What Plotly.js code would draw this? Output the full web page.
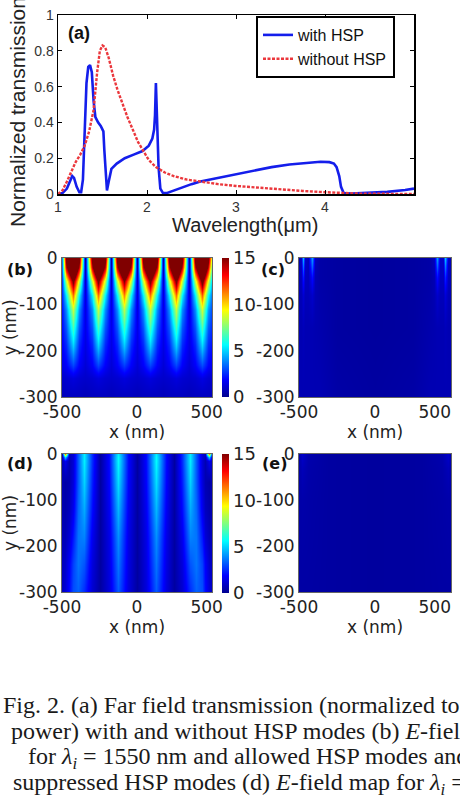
<!DOCTYPE html>
<html>
<head>
<meta charset="utf-8">
<script src="https://cdn.plot.ly/plotly-3.0.1.min.js"></script>
<style>
  html, body { margin: 0; padding: 0; background: #fff; overflow: hidden; }
  #fig { width: 460px; height: 799px; }
</style>
</head>
<body>
<div id="fig"></div>
<script>
// ---- (a) far-field transmission spectra ----
const lamWith = [1.00,1.05,1.10,1.14,1.16,1.18,1.21,1.24,1.26,1.28,1.30,1.32,1.34,1.36,1.38,1.40,1.42,1.45,1.48,1.51,1.52,1.54,1.55,1.57,1.60,1.66,1.75,1.85,1.95,2.02,2.06,2.08,2.09,2.10,2.11,2.13,2.15,2.18,2.22,2.30,2.40,2.50,2.60,2.80,3.00,3.20,3.40,3.60,3.80,3.95,4.05,4.10,4.13,4.16,4.18,4.21,4.30,4.50,4.70,4.90,5.00];
const tWith   = [0.000,0.005,0.03,0.08,0.10,0.09,0.04,0.01,0.01,0.08,0.40,0.62,0.71,0.72,0.68,0.52,0.43,0.40,0.38,0.35,0.25,0.05,0.02,0.07,0.14,0.17,0.20,0.22,0.24,0.27,0.31,0.36,0.44,0.62,0.45,0.15,0.03,0.005,0.005,0.02,0.04,0.055,0.07,0.09,0.11,0.13,0.15,0.165,0.175,0.18,0.178,0.17,0.15,0.10,0.04,0.005,0.003,0.006,0.012,0.022,0.03];

const lamWithout = [1.00,1.05,1.10,1.15,1.20,1.25,1.30,1.35,1.40,1.44,1.47,1.50,1.53,1.57,1.62,1.67,1.72,1.78,1.84,1.90,1.96,2.02,2.10,2.20,2.30,2.45,2.60,2.80,3.00,3.25,3.50,3.75,4.00,4.20,4.40,5.00];
const tWithout   = [0.00,0.02,0.07,0.13,0.18,0.22,0.27,0.35,0.47,0.68,0.80,0.83,0.82,0.76,0.66,0.58,0.51,0.43,0.36,0.29,0.24,0.19,0.15,0.12,0.10,0.08,0.07,0.055,0.045,0.035,0.025,0.017,0.01,0.005,0.002,0.000];

const seriesNames = ['with HSP', 'without HSP'];

// ---- (b) |E| map, 1550 nm, HSP modes allowed (rows from y=-300 up to y=0) ----
const bX = [-500,-475,-430,-385,-344,-303,-258,-213,-172,-131,-86,-41,0,41,86,131,172,213,258,303,344,385,430,475,500];
const bY = [-300,-260,-230,-190,-150,-110,-80,-50,-20,0];
const bZ = [
  [0.7,0.8,0.8,0.8,0.7,0.8,0.8,0.8,0.7,0.8,0.8,0.8,0.7,0.8,0.8,0.8,0.7,0.8,0.8,0.8,0.7,0.8,0.8,0.8,0.7],
  [1.0,1.1,1.3,1.1,1.0,1.1,1.3,1.1,1.0,1.1,1.3,1.1,1.0,1.1,1.3,1.1,1.0,1.1,1.3,1.1,1.0,1.1,1.4,1.1,1.0],
  [1.5,1.8,2.9,1.8,1.2,1.8,2.9,1.8,1.2,1.8,2.8,1.8,1.2,1.8,2.9,1.8,1.2,1.8,2.9,1.8,1.2,1.8,3.0,1.9,1.6],
  [1.8,2.4,4.9,2.4,1.4,2.4,4.9,2.4,1.4,2.4,4.8,2.4,1.4,2.4,4.9,2.4,1.4,2.4,4.9,2.4,1.4,2.4,5.0,2.5,2.0],
  [2.0,3.1,6.6,3.1,1.5,3.1,6.6,3.1,1.5,3.1,6.5,3.1,1.5,3.1,6.6,3.1,1.5,3.1,6.6,3.1,1.5,3.1,6.7,3.2,2.4],
  [2.2,4.0,8.6,4.0,1.4,4.0,8.6,4.0,1.4,4.0,8.4,4.0,1.4,4.0,8.6,4.0,1.4,4.0,8.6,4.0,1.4,4.0,8.8,4.2,2.8],
  [2.5,5.5,11.5,5.5,1.3,5.5,11.5,5.5,1.3,5.5,11.2,5.5,1.3,5.5,11.5,5.5,1.3,5.5,11.5,5.5,1.3,5.5,11.8,5.8,3.4],
  [2.8,8.5,15.5,8.5,1.0,8.5,15.5,8.5,1.0,8.5,15,8.5,1.0,8.5,15.5,8.5,1.0,8.5,15.5,8.5,1.0,8.5,16,9,4.5],
  [3.6,14,22,14,0.6,14,22,14,0.6,14,22,14,0.6,14,22,14,0.6,14,22,14,0.6,14,22,14,6.5],
  [4.0,16,25,16,0.3,16,25,16,0.3,16,25,16,0.3,16,25,16,0.3,16,25,16,0.3,16,25,16,8.0]
];

// ---- (c) |E| map, 1550 nm, HSP modes suppressed ----
const cX = [-500,-487,-474,-462,-444,-414,-396,-360,-250,0,250,360,390,408,428,445,461,478,500];
const cY = [-300,-150,-80,-40,-15,0];
const cZ = [
  [0.6,0.6,0.6,0.6,0.6,0.6,0.6,0.6,0.4,0.3,0.4,0.6,0.6,0.6,0.6,0.6,0.6,0.6,0.6],
  [0.6,0.6,0.7,0.6,0.6,0.6,0.55,0.5,0.3,0.25,0.3,0.5,0.55,0.6,0.6,0.6,0.7,0.6,0.6],
  [0.6,0.7,1.1,0.7,0.7,1.0,0.6,0.45,0.3,0.25,0.3,0.45,0.6,1.0,0.7,0.7,1.2,0.7,0.6],
  [0.6,0.8,2.2,0.8,0.7,2.0,0.6,0.4,0.3,0.25,0.3,0.4,0.6,2.0,0.8,0.8,2.4,0.8,0.6],
  [0.6,0.9,3.6,0.9,0.7,3.4,0.7,0.4,0.3,0.25,0.3,0.4,0.7,3.4,0.9,0.9,3.8,0.9,0.6],
  [0.6,1.0,4.6,1.0,0.7,4.2,0.8,0.4,0.3,0.25,0.3,0.4,0.8,4.2,1.0,1.0,4.8,1.0,0.6]
];

// ---- (d) |E| map, 2000 nm, HSP modes allowed ----
const dX = [-500,-482,-455,-430,-395,-353,-300,-247,-190,-125,-60,0,60,125,190,247,300,353,395,430,455,482,500];
const dY = [-300,-240,-180,-120,-60,-15,-6,0];
const dZ = [
  [0.8,1.2,2.0,3.0,3.3,2.5,1.1,0.3,1.3,3.2,1.3,0.3,1.3,3.2,1.3,0.3,1.1,2.5,3.3,3.0,2.0,1.2,0.8],
  [0.8,1.0,1.8,2.8,3.6,3.1,1.3,0.3,1.4,3.6,1.4,0.3,1.4,3.6,1.4,0.3,1.3,3.1,3.6,2.8,1.8,1.0,0.8],
  [0.7,0.7,1.2,2.2,3.6,3.8,1.6,0.3,1.5,4.0,1.5,0.3,1.5,4.0,1.5,0.3,1.6,3.8,3.6,2.2,1.2,0.7,0.7],
  [0.6,0.5,0.8,1.6,3.4,4.4,2.0,0.3,1.7,4.6,1.7,0.3,1.7,4.6,1.7,0.3,2.0,4.4,3.4,1.6,0.8,0.5,0.6],
  [0.6,0.4,0.6,1.3,3.2,5.0,2.3,0.3,1.9,5.2,1.9,0.3,1.9,5.2,1.9,0.3,2.3,5.0,3.2,1.3,0.6,0.4,0.6],
  [0.7,1.6,0.6,1.2,3.2,5.4,2.5,0.3,2.0,5.6,2.0,0.3,2.0,5.6,2.0,0.3,2.5,5.4,3.2,1.2,0.6,1.6,0.7],
  [0.8,5.0,0.7,1.2,3.2,5.4,2.5,0.3,2.0,5.6,2.0,0.3,2.0,5.6,2.0,0.3,2.5,5.4,3.2,1.2,0.7,5.0,0.8],
  [0.9,11.0,0.8,1.2,3.2,5.4,2.5,0.3,2.0,5.4,2.0,0.3,2.0,5.4,2.0,0.3,2.5,5.4,3.2,1.2,0.8,11.0,0.9]
];

// ---- (e) |E| map, 2000 nm, HSP modes suppressed ----
const eX = [-500,-480,-440,-300,0,300,440,480,500];
const eY = [-300,-100,-30,0];
const eZ = [
  [0.35,0.35,0.35,0.3,0.25,0.3,0.35,0.35,0.35],
  [0.4,0.45,0.4,0.3,0.25,0.3,0.4,0.45,0.4],
  [0.45,0.7,0.45,0.3,0.25,0.3,0.45,0.7,0.45],
  [0.5,1.0,0.5,0.3,0.25,0.3,0.5,1.0,0.5]
];

const mapTicksX = [-500, 0, 500];
// trailing figure spaces pull the right-hand "500" inward so it stays on the page
const mapTickTextX = ['-500', '0', '500\u2007'];
const mapTickTextXRight = ['-500', '0', '500\u2007\u2007\u2007'];
const mapTicksY = [0, -100, -200, -300];
const mapTickTextY = ['0', '-100', '-200', '-300'];
const cbarTicks = [0, 5, 10, 15];

// MATLAB-style jet colormap
const jet = [
  [0, 'rgb(0,0,143)'], [0.125, 'rgb(0,0,255)'], [0.375, 'rgb(0,255,255)'],
  [0.625, 'rgb(255,255,0)'], [0.875, 'rgb(255,0,0)'], [1, 'rgb(128,0,0)']
];

const W = 460, H = 799;
const px = v => v / W;          // horizontal pixel -> paper
const py = v => 1 - v / H;      // vertical pixel (from top) -> paper

const mapFont = { family: 'DejaVu Sans', size: 17, color: '#222' };
const specFont = { family: 'Liberation Sans', size: 14, color: '#333' };

function colorbar(topPx) {
  return {
    x: px(222), xanchor: 'left', xpad: 0,
    y: py(topPx), yanchor: 'top', ypad: 0,
    thickness: 6.5, thicknessmode: 'pixels',
    len: 139, lenmode: 'pixels',
    outlinewidth: 0, ticks: '',
    tickvals: cbarTicks, ticktext: cbarTicks.map(String),
    tickfont: { family: 'DejaVu Sans', size: 18, color: '#222' }
  };
}

function mapTrace(x, y, z, ax, cbTop) {
  const t = {
    type: 'heatmap', x: x, y: y, z: z,
    xaxis: 'x' + ax, yaxis: 'y' + ax,
    colorscale: jet, zmin: 0, zmax: 15, zsmooth: 'best',
    hoverinfo: 'skip', showscale: cbTop !== undefined
  };
  if (cbTop !== undefined) t.colorbar = colorbar(cbTop);
  return t;
}

const traces = [
  { type: 'scatter', mode: 'lines', x: lamWith, y: tWith, name: seriesNames[0],
    line: { color: 'rgb(20,30,235)', width: 2.6 }, xaxis: 'x', yaxis: 'y' },
  { type: 'scatter', mode: 'lines', x: lamWithout, y: tWithout, name: seriesNames[1],
    line: { color: 'rgb(235,55,60)', width: 2.4, dash: '3px,1.5px' }, xaxis: 'x', yaxis: 'y' },
  mapTrace(bX, bY, bZ, 2, 258),
  mapTrace(cX, cY, cZ, 3),
  mapTrace(dX, dY, dZ, 4, 454),
  mapTrace(eX, eY, eZ, 5)
];

function mapX(x0, x1, anchor, labels) {
  return {
    domain: [px(x0), px(x1)], anchor: anchor, range: [-500, 500],
    tickvals: mapTicksX, ticktext: labels, ticks: '', ticklabeloverflow: 'allow',
    tickfont: mapFont, showline: true, mirror: true, linecolor: '#666', linewidth: 1,
    showgrid: false, zeroline: false,
    title: { text: 'x (nm)', font: mapFont, standoff: 0 }
  };
}
function mapY(y0, y1, anchor, withTitle) {
  const a = {
    domain: [py(y1), py(y0)], anchor: anchor, range: [-300, 0],
    tickvals: mapTicksY, ticktext: mapTickTextY, ticks: '', ticklabeloverflow: 'allow',
    tickfont: mapFont, showline: true, mirror: true, linecolor: '#666', linewidth: 1,
    showgrid: false, zeroline: false
  };
  if (withTitle) a.title = { text: 'y (nm)', font: mapFont, standoff: 0 };
  return a;
}

const layout = {
  width: W, height: H,
  margin: { l: 0, r: 0, t: 0, b: 0 },
  paper_bgcolor: '#fff', plot_bgcolor: '#fff',
  showlegend: true,
  legend: {
    x: px(256), xanchor: 'left', y: py(16), yanchor: 'top',
    bordercolor: '#000', borderwidth: 2, bgcolor: '#fff',
    font: { family: 'Liberation Sans', size: 16, color: '#111' },
    tracegroupgap: 0
  },
  xaxis: {
    domain: [px(58), px(414)], anchor: 'y', range: [1, 5],
    tickvals: [1, 2, 3, 4], ticks: 'inside', ticklen: 4, tickcolor: '#000',
    tickfont: specFont, showline: true, mirror: 'allticks', linecolor: '#000', linewidth: 1.5,
    showgrid: false, zeroline: false
  },
  yaxis: {
    domain: [py(194), py(15)], anchor: 'x', range: [0, 1],
    tickvals: [0, 0.2, 0.4, 0.6, 0.8, 1], ticktext: ['0', '0.2', '0.4', '0.6', '0.8', '1'],
    ticks: 'inside', ticklen: 4, tickcolor: '#000',
    tickfont: specFont, showline: true, mirror: 'allticks', linecolor: '#000', linewidth: 1.5,
    showgrid: false, zeroline: false
  },
  xaxis2: mapX(62, 212, 'y2', mapTickTextX), yaxis2: mapY(258, 397, 'x2', true),
  xaxis3: mapX(299, 451, 'y3', mapTickTextXRight), yaxis3: mapY(258, 397, 'x3', false),
  xaxis4: mapX(62, 212, 'y4', mapTickTextX), yaxis4: mapY(454, 592, 'x4', true),
  xaxis5: mapX(299, 451, 'y5', mapTickTextXRight), yaxis5: mapY(454, 592, 'x5', false),
  annotations: []
};

const A = layout.annotations;
// axis titles of the spectrum panel
A.push({ text: 'Normalized transmission', xref: 'paper', yref: 'paper', x: px(17), y: py(112),
  textangle: -90, showarrow: false, xanchor: 'center', yanchor: 'middle',
  font: { family: 'Liberation Sans', size: 21, color: '#222' } });
A.push({ text: 'Wavelength(μm)', xref: 'paper', yref: 'paper', x: px(245), y: py(225),
  showarrow: false, xanchor: 'center', yanchor: 'middle',
  font: { family: 'Liberation Sans', size: 20, color: '#222' } });

// panel letters
const panelLabels = [
  ['(a)', 79, 33, 'Liberation Sans', 18],
  ['(b)', 20, 269, 'DejaVu Sans', 16],
  ['(c)', 273, 270, 'DejaVu Sans', 16],
  ['(d)', 20, 464, 'DejaVu Sans', 16],
  ['(e)', 274, 464, 'DejaVu Sans', 16]
];
panelLabels.forEach(([t, x, y, fam, sz]) => A.push({
  text: '<b>' + t + '</b>', xref: 'paper', yref: 'paper', x: px(x), y: py(y),
  showarrow: false, xanchor: 'center', yanchor: 'middle',
  font: { family: fam, size: sz, color: '#111' }
}));

// figure caption
const captionLines = [
  ['Fig. 2. (a) Far field transmission (normalized to', 1, 705],
  ['power) with and without HSP modes (b) <i>E</i>-field', 9, 731],
  ['for <i>λ</i><sub><i>i</i></sub> = 1550 nm and allowed HSP modes and', 26, 758],
  ['suppressed HSP modes (d) <i>E</i>-field map for <i>λ</i><sub><i>i</i></sub> =', 11, 784]
];
captionLines.forEach(([t, x, y]) => A.push({
  text: t, xref: 'paper', yref: 'paper', x: px(x), y: py(y),
  showarrow: false, xanchor: 'left', yanchor: 'middle', align: 'left',
  font: { family: 'Liberation Serif', size: 24, color: '#1a1a1a' }
}));

Plotly.newPlot('fig', traces, layout, { staticPlot: true, displayModeBar: false });
</script>
</body>
</html>
